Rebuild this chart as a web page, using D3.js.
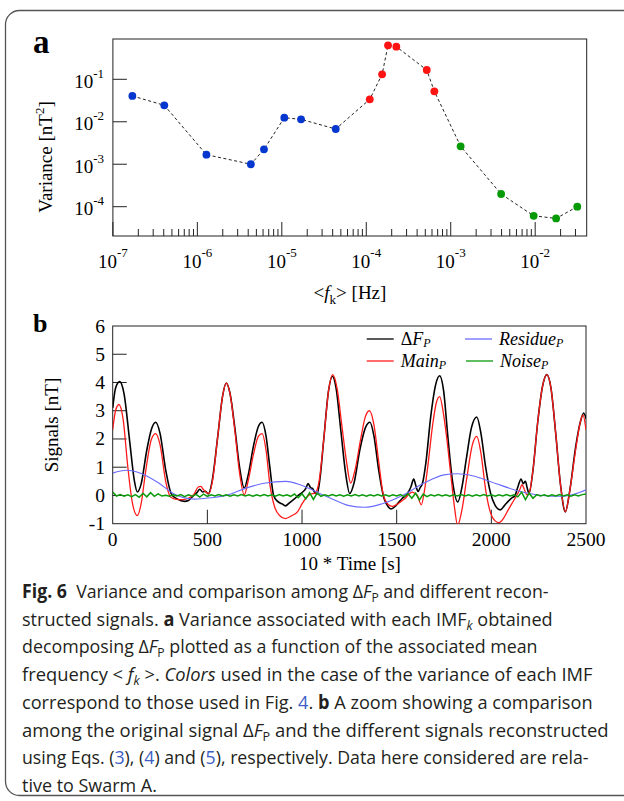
<!DOCTYPE html>
<html>
<head>
<meta charset="utf-8">
<script src="https://d3js.org/d3.v7.min.js"></script>
<style>
  body { margin: 0; background: #fff; }
  text { white-space: pre; }
</style>
</head>
<body>
<div id="chart"></div>
<script>
// ---- panel a : variance of each IMF vs mean frequency ----
var imfFreq = [1.7e-7, 4.06e-7, 1.28e-6, 4.3e-6, 6.15e-6, 1.07e-5, 1.69e-5, 4.35e-5,
  1.1e-4, 1.54e-4, 1.81e-4, 2.27e-4, 5.2e-4, 6.4e-4,
  1.31e-3, 3.95e-3, 9.6e-3, 1.77e-2, 3.15e-2];
var imfVar = [0.0405, 0.0244, 0.00168, 0.001, 0.00224, 0.01245, 0.0114, 0.00675,
  0.0338, 0.131, 0.632, 0.586, 0.1655, 0.0521,
  0.00264, 1.99e-4, 6.1e-5, 5.3e-5, 1.0e-4];
var imfGroup = ["low", "low", "low", "low", "low", "low", "low", "low",
  "main", "main", "main", "main", "main", "main",
  "noise", "noise", "noise", "noise", "noise"];
var varTicks = [1e-4, 1e-3, 1e-2, 1e-1];
var freqLabels = [1e-7, 1e-6, 1e-5, 1e-4, 1e-3, 1e-2];

// ---- panel b : signals, [10*time, nT] ----
var deltaF = [[0,3.1],[15,3.8],[37,4.03],[60,3.6],[90,1.9],[115,0.5],[130,0.12],[150,0.4],[180,1.6],[205,2.35],
  [227,2.59],[250,2.2],[280,0.9],[310,0.05],[340,-0.12],[380,-0.21],[400,-0.18],[420,-0.05],[445,0.1],[460,0.22],
  [475,0.12],[490,0.15],[505,0.05],[525,0.5],[555,2.1],[580,3.5],[600,3.98],[620,3.6],[645,2.4],[670,1.0],
  [695,0.26],[715,0.7],[745,1.8],[770,2.45],[789,2.59],[810,2.1],[830,1.0],[850,0.0],[870,-0.2],[895,-0.3],
  [912,-0.37],[935,-0.25],[960,-0.12],[980,0.0],[1000,0.1],[1020,0.25],[1032,0.42],[1045,0.28],[1055,0.25],[1068,0.1],
  [1080,0.05],[1095,0.6],[1115,2.0],[1140,3.7],[1160,4.22],[1180,3.8],[1205,2.3],[1230,0.8],[1252,0.07],[1275,0.45],
  [1305,1.6],[1335,2.4],[1359,2.59],[1380,2.1],[1405,0.9],[1433,-0.1],[1455,-0.4],[1470,-0.48],[1490,-0.4],[1510,-0.25],
  [1530,-0.1],[1555,0.05],[1575,0.3],[1590,0.58],[1601,0.35],[1613,0.14],[1624,0.28],[1636,0.42],[1655,1.2],[1680,2.8],
  [1705,3.9],[1727,4.24],[1748,3.7],[1770,2.1],[1795,0.5],[1823,-0.23],[1845,0.3],[1868,1.3],[1895,2.4],[1923,2.78],
  [1945,2.2],[1970,1.0],[1995,0.1],[2020,-0.35],[2047,-0.51],[2070,-0.35],[2090,-0.2],[2108,-0.09],[2125,0.0],[2140,0.3],
  [2157,0.58],[2168,0.42],[2180,0.5],[2190,0.25],[2199,0.07],[2220,0.9],[2245,2.6],[2270,3.85],[2293,4.28],[2315,3.8],
  [2340,2.2],[2365,0.4],[2391,-0.58],[2415,0.2],[2445,1.7],[2470,2.6],[2488,2.92],[2500,2.72]];

var mainP = [[0,2.33],[15,3.0],[33,3.22],[55,2.7],[80,1.0],[105,-0.3],[130,-0.71],[150,-0.3],[175,0.9],[205,2.0],
  [227,2.19],[250,1.8],[280,0.5],[305,-0.05],[330,-0.13],[370,-0.15],[400,-0.1],[430,0.05],[452,0.3],[465,0.32],
  [480,0.2],[495,0.1],[510,0.08],[528,0.55],[555,2.1],[580,3.5],[600,3.98],[620,3.6],[645,2.3],[670,0.8],
  [695,0.02],[715,0.5],[745,1.5],[770,2.1],[789,2.19],[810,1.6],[830,0.4],[855,-0.4],[880,-0.7],[912,-0.82],
  [945,-0.72],[977,-0.57],[1000,-0.3],[1021,-0.09],[1045,0.05],[1069,0.08],[1090,0.5],[1115,2.0],[1140,3.7],[1162,4.28],
  [1185,3.8],[1210,2.5],[1235,1.2],[1257,0.44],[1280,0.9],[1310,2.0],[1335,2.8],[1356,3.0],[1380,2.5],[1405,1.2],
  [1430,0.0],[1455,-0.32],[1477,-0.39],[1500,-0.32],[1525,-0.2],[1547,-0.09],[1565,0.05],[1582,0.12],[1596,0.07],[1609,0.0],
  [1630,-0.33],[1645,0.1],[1662,0.9],[1690,2.5],[1710,3.3],[1727,3.5],[1747,2.9],[1765,2.0],[1785,0.79],[1805,-0.4],
  [1822,-1.05],[1845,-0.5],[1870,0.6],[1900,1.8],[1923,2.09],[1945,1.5],[1970,0.2],[1995,-0.6],[2020,-0.9],[2040,-0.96],
  [2065,-0.8],[2090,-0.5],[2110,-0.27],[2130,-0.05],[2150,0.2],[2162,0.38],[2175,0.2],[2188,0.02],[2200,0.1],[2220,0.9],
  [2245,2.6],[2270,3.85],[2293,4.28],[2315,3.8],[2340,2.2],[2365,0.4],[2391,-0.58],[2415,0.2],[2445,1.6],[2470,2.6],
  [2484,2.85],[2500,2.33]];

var residueP = [[0,0.79],[72,0.89],[150,0.78],[239,0.46],[327,0.04],[433,-0.13],[520,-0.08],[610,0.02],[700,0.25],[800,0.43],
  [915,0.5],[1000,0.35],[1091,0.08],[1148,-0.09],[1243,-0.35],[1330,-0.42],[1420,-0.3],[1530,0.0],[1640,0.42],[1750,0.73],
  [1820,0.77],[1900,0.7],[2000,0.48],[2153,0.14],[2270,0.0],[2373,-0.03],[2440,0.05],[2500,0.2]];

// noise, one value every 20 time units from 0 to 2500
var noiseStep = 20;
var noiseP = [0.12,-0.02,0.03,-0.03,0.02,-0.04,0.03,-0.06,0.08,-0.05,
  0.1,-0.03,0.06,-0.02,0.01,-0.03,0.02,-0.02,0.03,-0.04,
  0.02,-0.03,0.04,-0.06,0.05,-0.03,0.02,-0.02,0.03,-0.02,
  0.02,-0.03,0.02,-0.02,0.03,-0.02,0.02,-0.03,0.02,-0.02,
  0.03,-0.02,0.02,-0.03,0.03,-0.02,0.02,-0.03,0.05,-0.08,
  0.06,-0.12,0.1,-0.14,0.08,-0.03,0.02,-0.02,0.03,-0.02,
  0.02,-0.03,0.02,-0.02,0.03,-0.02,0.02,-0.03,0.02,-0.02,
  0.03,-0.02,0.02,-0.03,0.02,-0.02,0.03,-0.04,0.06,-0.1,
  0.08,-0.16,0.05,-0.04,0.02,-0.02,0.03,-0.02,0.02,-0.03,
  0.02,-0.02,0.03,-0.02,0.02,-0.03,0.02,-0.02,0.03,-0.02,
  0.02,-0.03,0.02,-0.02,0.03,-0.02,0.02,-0.05,0.12,-0.15,
  0.08,-0.1,0.03,-0.02,0.02,-0.03,0.02,-0.02,0.03,-0.02,
  0.02,-0.03,0.02,-0.02,0.03,0.05];

var timeTicks = [0, 500, 1000, 1500, 2000, 2500];
var signalTicks = [-1, 0, 1, 2, 3, 4, 5, 6];

var colorSet = {
  low: "#0537cf",
  main: "#ff1414",
  noise: "#079a07",
  deltaF: "#000",
  mainLine: "#ff1a1a",
  residue: "#6b6bff",
  noiseLine: "#0a9a0a",
  link: "#3d5fc4"
};

var serif = "'Liberation Serif', 'Times New Roman', serif";
var width = 624, height = 801;

var svg = d3.select("#chart").append("svg")
  .attr("width", width)
  .attr("height", height)
  .style("background", "#fff");

// outer box (right edge runs off the page)
svg.append("rect")
  .attr("x", 5.5).attr("y", 10.5)
  .attr("width", 680).attr("height", 785)
  .attr("rx", 14)
  .attr("fill", "none")
  .attr("stroke", "#555")
  .attr("stroke-width", 1.3);

//===================== panel a =====================
var xA = d3.scaleLog().domain([1e-7, Math.pow(10, -1.39)]).range([112.9, 586.7]);
var yA = d3.scaleLog().domain([Math.pow(10, -4.69), Math.pow(10, -0.051)]).range([236, 39]);
var gA = svg.append("g");

gA.append("rect")
  .attr("x", 112.9).attr("y", 39)
  .attr("width", 586.7 - 112.9).attr("height", 236 - 39)
  .attr("fill", "none").attr("stroke", "#222").attr("stroke-width", 1);

function isMajor(v) {
  var l = Math.log10(v);
  return Math.abs(l - Math.round(l)) < 1e-6;
}

// x ticks pointing up from bottom
gA.selectAll("line.xt")
  .data(xA.ticks().filter(function (v) { return xA(v) < 584; }))
  .enter().append("line")
  .attr("x1", function (d) { return xA(d); })
  .attr("x2", function (d) { return xA(d); })
  .attr("y1", 236)
  .attr("y2", function (d) { return isMajor(d) ? 222 : 229; })
  .attr("stroke", "#222");

gA.selectAll("line.yt")
  .data(varTicks).enter().append("line")
  .attr("x1", 112.9).attr("x2", 126.9)
  .attr("y1", function (d) { return yA(d); })
  .attr("y2", function (d) { return yA(d); })
  .attr("stroke", "#222");

// tick labels 10^n
freqLabels.forEach(function (v) {
  var t = gA.append("text")
    .attr("x", xA(v)).attr("y", 268)
    .attr("text-anchor", "middle")
    .style("font-family", serif).style("font-size", "19px");
  t.append("tspan").text("10");
  t.append("tspan").attr("dy", -11).style("font-size", "13px").text("-" + Math.round(-Math.log10(v)));
});
varTicks.forEach(function (v) {
  var t = gA.append("text")
    .attr("x", 104).attr("y", yA(v) + 8.5)
    .attr("text-anchor", "end")
    .style("font-family", serif).style("font-size", "19px");
  t.append("tspan").text("10");
  t.append("tspan").attr("dy", -10).style("font-size", "13px").text("-" + Math.round(-Math.log10(v)));
});

// dashed connecting line
var lineA = d3.line()
  .x(function (d) { return xA(d[0]); })
  .y(function (d) { return yA(d[1]); });
gA.append("path")
  .attr("d", lineA(d3.zip(imfFreq, imfVar)))
  .attr("fill", "none")
  .attr("stroke", "#222")
  .attr("stroke-width", 1)
  .attr("stroke-dasharray", "3,2.5");

gA.selectAll("circle")
  .data(d3.range(imfFreq.length))
  .enter().append("circle")
  .attr("cx", function (i) { return xA(imfFreq[i]); })
  .attr("cy", function (i) { return yA(imfVar[i]); })
  .attr("r", 3.9)
  .attr("fill", function (i) { return colorSet[imfGroup[i]]; });

// titles
gA.append("text")
  .attr("x", 33).attr("y", 53)
  .style("font-family", serif).style("font-size", "33px").style("font-weight", "bold")
  .text("a");

var vt = gA.append("text")
  .attr("transform", "translate(52,157) rotate(-90)")
  .attr("text-anchor", "middle")
  .style("font-family", serif).style("font-size", "19px");
vt.append("tspan").text("Variance [nT");
vt.append("tspan").attr("dy", -8).style("font-size", "13px").text("2");
vt.append("tspan").attr("dy", 8).text("]");

var ft = gA.append("text")
  .attr("x", 350).attr("y", 299)
  .attr("text-anchor", "middle")
  .style("font-family", serif).style("font-size", "19px");
ft.append("tspan").text("<");
ft.append("tspan").style("font-style", "italic").text("f");
ft.append("tspan").attr("dy", 5).style("font-size", "13px").text("k");
ft.append("tspan").attr("dy", -5).text("> [Hz]");

//===================== panel b =====================
var xB = d3.scaleLinear().domain([0, 2500]).range([112.7, 586]);
var yB = d3.scaleLinear().domain([-1, 6]).range([523.7, 326]);
var gB = svg.append("g");

gB.append("clipPath").attr("id", "clipB")
  .append("rect")
  .attr("x", 112.7).attr("y", 326)
  .attr("width", 586 - 112.7).attr("height", 523.7 - 326);

gB.append("rect")
  .attr("x", 112.7).attr("y", 326)
  .attr("width", 586 - 112.7).attr("height", 523.7 - 326)
  .attr("fill", "none").attr("stroke", "#222").attr("stroke-width", 1);

gB.selectAll("line.xt")
  .data(timeTicks.slice(1, -1)).enter().append("line")
  .attr("x1", function (d) { return xB(d); })
  .attr("x2", function (d) { return xB(d); })
  .attr("y1", 523.7).attr("y2", 509.7)
  .attr("stroke", "#222");
gB.selectAll("line.yt")
  .data(signalTicks.slice(1, -1)).enter().append("line")
  .attr("x1", 112.7).attr("x2", 126.7)
  .attr("y1", function (d) { return yB(d); })
  .attr("y2", function (d) { return yB(d); })
  .attr("stroke", "#222");

gB.selectAll("text.xl")
  .data(timeTicks).enter().append("text")
  .attr("x", function (d) { return xB(d); })
  .attr("y", 546)
  .attr("text-anchor", "middle")
  .style("font-family", serif).style("font-size", "19.5px")
  .text(function (d) { return d; });
gB.selectAll("text.yl")
  .data(signalTicks).enter().append("text")
  .attr("x", 105)
  .attr("y", function (d) { return yB(d) + 6.5; })
  .attr("text-anchor", "end")
  .style("font-family", serif).style("font-size", "19.5px")
  .text(function (d) { return d; });

var lineB = d3.line()
  .x(function (d) { return xB(d[0]); })
  .y(function (d) { return yB(d[1]); })
  .curve(d3.curveMonotoneX);

var curves = gB.append("g").attr("clip-path", "url(#clipB)");
curves.append("path").attr("d", lineB(deltaF))
  .attr("fill", "none").attr("stroke", colorSet.deltaF).attr("stroke-width", 1.6);
curves.append("path").attr("d", lineB(mainP))
  .attr("fill", "none").attr("stroke", colorSet.mainLine).attr("stroke-width", 1.3);
curves.append("path").attr("d", lineB(residueP))
  .attr("fill", "none").attr("stroke", colorSet.residue).attr("stroke-width", 1.1);
curves.append("path")
  .attr("d", d3.line()
    .x(function (d, i) { return xB(i * noiseStep); })
    .y(function (d) { return yB(d); })(noiseP))
  .attr("fill", "none").attr("stroke", colorSet.noiseLine).attr("stroke-width", 1.5);

// legend
var legend = [
  { x: 366.7, y: 339, color: colorSet.deltaF, parts: [["\u0394", ""], ["F", "i"], ["P", "isub"]] },
  { x: 465, y: 339, color: colorSet.residue, parts: [["Residue", "i"], ["P", "isub"]] },
  { x: 366.7, y: 361, color: colorSet.mainLine, parts: [["Main", "i"], ["P", "isub"]] },
  { x: 466, y: 361, color: colorSet.noiseLine, parts: [["Noise", "i"], ["P", "isub"]] }
];
legend.forEach(function (L) {
  gB.append("line")
    .attr("x1", L.x).attr("x2", L.x + 27)
    .attr("y1", L.y).attr("y2", L.y)
    .attr("stroke", L.color).attr("stroke-width", 1.3);
  var t = gB.append("text")
    .attr("x", L.x + 34).attr("y", L.y + 5.5)
    .style("font-family", serif).style("font-size", "18px");
  L.parts.forEach(function (p) {
    var ts = t.append("tspan").text(p[0]);
    if (p[1] === "i" || p[1] === "isub") ts.style("font-style", "italic");
    if (p[1] === "isub") ts.attr("dy", 2.5).style("font-size", "12px");
  });
});

gB.append("text")
  .attr("x", 33).attr("y", 332)
  .style("font-family", serif).style("font-size", "26px").style("font-weight", "bold")
  .text("b");
gB.append("text")
  .attr("transform", "translate(58,425) rotate(-90)")
  .attr("text-anchor", "middle")
  .style("font-family", serif).style("font-size", "19px")
  .text("Signals [nT]");
gB.append("text")
  .attr("x", 350).attr("y", 570)
  .attr("text-anchor", "middle")
  .style("font-family", serif).style("font-size", "19px")
  .text("10 * Time [s]");

//===================== caption =====================
var captionLines = [
  [["Fig. 6", "b"], ["  Variance and comparison among \u0394", ""], ["F", "i"], ["P", "sub"], [" and different recon-", ""]],
  [["structed signals. ", ""], ["a", "b"], [" Variance associated with each IMF", ""], ["k", "isub"], [" obtained", ""]],
  [["decomposing \u0394", ""], ["F", "i"], ["P", "sub"], [" plotted as a function of the associated mean", ""]],
  [["frequency < ", ""], ["f", "i"], ["k", "isub"], [" >. ", ""], ["Colors", "i"], [" used in the case of the variance of each IMF", ""]],
  [["correspond to those used in Fig. ", ""], ["4", "link"], [". ", ""], ["b", "b"], [" A zoom showing a comparison", ""]],
  [["among the original signal \u0394", ""], ["F", "i"], ["P", "sub"], [" and the different signals reconstructed", ""]],
  [["using Eqs. (", ""], ["3", "link"], ["), (", ""], ["4", "link"], [") and (", ""], ["5", "link"], ["), respectively. Data here considered are rela-", ""]],
  [["tive to Swarm A.", ""]]
];
var captionRight = [549, 553, 538, 593, 593, 609, 589, 157];
var captionLeft = 22;

captionLines.forEach(function (segs, k) {
  var y = 598 + k * 27.7;
  var t = svg.append("text")
    .attr("transform", "translate(" + captionLeft + "," + y + ")")
    .style("font-family", "'Open Sans', 'Noto Sans', sans-serif")
    .style("font-size", "19px")
    .attr("fill", "#231f20");
  var shift = 0;
  segs.forEach(function (s) {
    var ts = t.append("tspan").text(s[0]);
    var dy;
    if (s[1] === "sub" || s[1] === "isub") {
      ts.style("font-size", "13px");
      dy = 4 - shift; shift = 4;
    } else {
      dy = -shift; shift = 0;
    }
    if (dy) ts.attr("dy", dy);
    if (s[1] === "b") ts.style("font-weight", "bold");
    if (s[1] === "i" || s[1] === "isub") ts.style("font-style", "italic");
    if (s[1] === "link") ts.attr("fill", colorSet.link);
  });
  var w = t.node().getComputedTextLength();
  var sx = (captionRight[k] - captionLeft) / w;
  t.attr("transform", "translate(" + captionLeft + "," + y + ") scale(" + sx + ",1)");
});
</script>
</body>
</html>
